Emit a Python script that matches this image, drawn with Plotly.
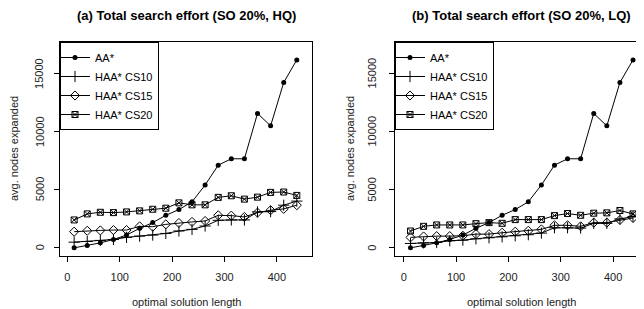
import plotly.graph_objects as go

# The page body has an 8px margin; lay out in page pixels and compensate.
OFF = 8
W, H = 644 - OFF, 309 - OFF

x_len = [13 + 25 * i for i in range(18)]

series_names = ["AA*", "HAA* CS10", "HAA* CS15", "HAA* CS20"]

# Panel (a) HQ
aa_hq = [0, 200, 430, 720, 1100, 1680, 2170, 2800, 3290, 3960, 5400, 7110, 7660, 7660, 11560, 10490, 14220, 16160]
cs10_hq = [490, 550, 640, 720, 900, 1010, 1100, 1240, 1450, 1590, 1880, 2370, 2400, 2400, 3090, 3120, 3670, 4020]
cs15_hq = [1390, 1470, 1500, 1530, 1530, 1850, 1820, 2020, 2140, 2230, 2310, 2800, 2770, 2660, 3030, 3240, 3350, 3670]
cs20_hq = [2400, 2920, 3060, 3030, 3090, 3180, 3320, 3410, 3870, 3700, 3700, 4340, 4480, 4190, 4360, 4770, 4800, 4510]

# Panel (b) LQ
aa_lq = [0, 200, 430, 720, 1100, 1680, 2170, 2800, 3290, 3960, 5400, 7110, 7660, 7660, 11560, 10490, 14220, 16160]
cs10_lq = [380, 430, 460, 610, 660, 780, 870, 950, 1040, 1130, 1270, 1730, 1730, 1700, 2110, 2110, 2490, 2690]
cs15_lq = [900, 980, 1010, 1010, 1040, 1180, 1180, 1300, 1390, 1470, 1590, 1940, 1940, 1850, 2170, 2170, 2400, 2570]
cs20_lq = [1450, 1850, 1970, 1970, 1970, 2080, 2170, 2110, 2430, 2430, 2430, 2770, 2950, 2800, 2980, 3010, 3210, 2920]

titles = ["(a) Total search effort (SO 20%, HQ)", "(b) Total search effort (SO 20%, LQ)"]
x_title = "optimal solution length"
y_title = "avg. nodes expanded"
x_ticks = [0, 100, 200, 300, 400]
y_ticks = [0, 5000, 10000, 15000]

FONT = "Liberation Sans, Arial, Helvetica, sans-serif"

markers = [
    dict(symbol="circle", size=5, color="black"),
    dict(symbol="cross-thin", size=8, line=dict(color="black", width=1)),
    dict(symbol="diamond-open", size=7, color="black", line=dict(color="black", width=1)),
    dict(symbol="square-x-open", size=6, color="black", line=dict(color="black", width=1)),
]

fig = go.Figure()

panels = [
    ("x", "y", "legend", [aa_hq, cs10_hq, cs15_hq, cs20_hq]),
    ("x2", "y2", "legend2", [aa_lq, cs10_lq, cs15_lq, cs20_lq]),
]
for xa, ya, lg, data in panels:
    for name, vals, mk in zip(series_names, data, markers):
        fig.add_trace(go.Scatter(
            x=x_len, y=vals, name=name, mode="lines+markers",
            line=dict(color="black", width=1), marker=mk,
            xaxis=xa, yaxis=ya, legend=lg,
        ))

# panel geometry in page pixels
L1, R1 = 60, 312
L2, R2 = 395, 644
TOP, BOT = 42, 256


def px(v):
    return (v - OFF) / W


def py(v):
    return 1 - (v - OFF) / H


axis_common = dict(
    showline=True, linecolor="black", linewidth=1, mirror=True,
    ticks="outside", ticklen=5, tickcolor="black", tickwidth=1,
    showgrid=False, zeroline=False, tickformat="d",
    tickfont=dict(family=FONT, size=11, color="#222"),
)

legend_common = dict(
    xanchor="left", yanchor="top",
    bordercolor="black", borderwidth=1, bgcolor="white",
    font=dict(family=FONT, size=11, color="black"),
    itemwidth=30, tracegroupgap=0, indentation=-6,
)

fig.update_layout(
    width=W, height=H,
    margin=dict(l=0, r=0, t=0, b=0),
    paper_bgcolor="white", plot_bgcolor="white",
    font=dict(family=FONT, size=11, color="black"),
    xaxis=dict(domain=[px(L1), px(R1)], range=[-14, 467], tickvals=x_ticks,
               anchor="y", ticklabelstandoff=6, **axis_common),
    yaxis=dict(domain=[py(BOT), py(TOP)], range=[-700, 17700], tickvals=y_ticks,
               anchor="x", showticklabels=False, **axis_common),
    xaxis2=dict(domain=[px(L2), 1.0], range=[-16.6, 459], tickvals=x_ticks,
                anchor="y2", ticklabelstandoff=6, **axis_common),
    yaxis2=dict(domain=[py(BOT), py(TOP)], range=[-700, 17700], tickvals=y_ticks,
                anchor="x2", showticklabels=False, **axis_common),
    legend=dict(x=px(L1), y=py(TOP), **legend_common),
    legend2=dict(x=px(L2), y=py(TOP), **legend_common),
)

annotations = []
for title, cx in zip(titles, [(L1 + R1) / 2, (L2 + 647) / 2]):
    annotations.append(dict(text="<b>" + title + "</b>", x=px(cx), y=py(16),
                            xref="paper", yref="paper", showarrow=False,
                            xanchor="center", yanchor="middle",
                            font=dict(family=FONT, size=13, color="black")))
    annotations.append(dict(text=x_title, x=px(cx), y=py(302),
                            xref="paper", yref="paper", showarrow=False,
                            xanchor="center", yanchor="middle",
                            font=dict(family=FONT, size=11, color="#222")))
for ylx in [14, 350]:
    annotations.append(dict(text=y_title, x=px(ylx), y=py((TOP + BOT) / 2),
                            xref="paper", yref="paper", showarrow=False, textangle=-90,
                            xanchor="center", yanchor="middle",
                            font=dict(family=FONT, size=11, color="#222")))
# y tick labels, parallel to the axis and centred on each tick
for yref, lx in [("y", 39.5), ("y2", 372)]:
    for t in y_ticks:
        annotations.append(dict(text=str(t), x=px(lx), y=t,
                                xref="paper", yref=yref, showarrow=False, textangle=-90,
                                xanchor="center", yanchor="middle",
                                font=dict(family=FONT, size=11, color="#222")))
fig.update_layout(annotations=annotations)

fig.write_html("out.html")
